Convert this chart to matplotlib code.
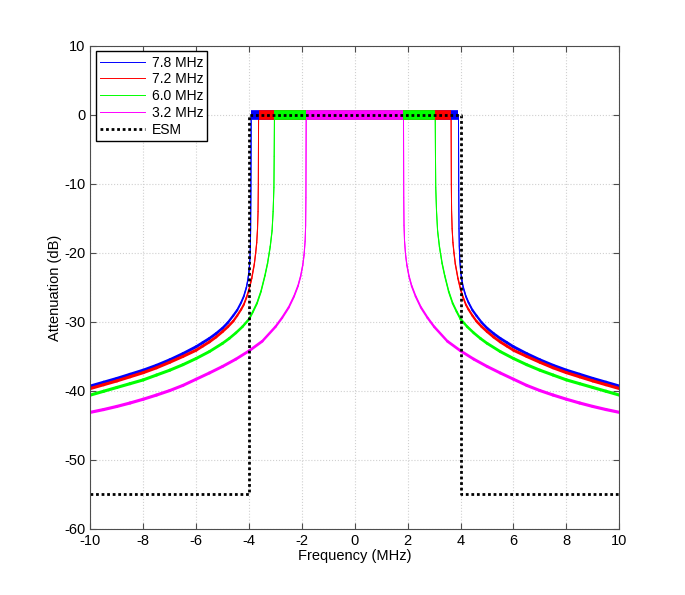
import numpy as np
import matplotlib.pyplot as plt
from matplotlib.collections import LineCollection

plt.rcParams['font.family'] = ['Liberation Sans', 'DejaVu Sans']
plt.rcParams['axes.unicode_minus'] = False

# Left half of each response (the curves are symmetric about 0 MHz)
freq_78 = [-10, -9.5, -9, -8.5, -8, -7.5, -7, -6.5, -6, -5.75, -5.5, -5.25, -5, -4.8, -4.6, -4.45,
           -4.3, -4.2, -4.1, -4.05, -4.0, -3.97, -3.95, -3.94, -3.93, -3.92]
att_78 = [-39.3, -38.75, -38.2, -37.6, -37.0, -36.3, -35.5, -34.6, -33.6, -33.0, -32.4, -31.7, -30.9, -30.1, -29.1, -28.3,
          -27.2, -26.3, -25.0, -24.0, -22.6, -21.0, -19.0, -16.5, -11.0, 0]

freq_72 = [-10, -9.5, -9, -8.5, -8, -7.5, -7, -6.5, -6, -5.75, -5.5, -5.25, -5, -4.8, -4.6, -4.45,
           -4.3, -4.2, -4.1, -4.0, -3.9, -3.8, -3.75, -3.71, -3.68, -3.66, -3.65, -3.64]
att_72 = [-39.65, -39.1, -38.55, -37.95, -37.35, -36.65, -35.85, -35.0, -34.1, -33.5, -32.9, -32.2, -31.4, -30.7, -29.9, -29.1,
          -28.2, -27.5, -26.5, -25.3, -23.7, -21.6, -20.0, -18.5, -16.5, -14.0, -10.0, 0]

freq_60 = [-10, -9.5, -9, -8.5, -8, -7.5, -7, -6.5, -6, -5.5, -5, -4.75, -4.5, -4.25, -4.0, -3.85,
           -3.7, -3.55, -3.4, -3.3, -3.2, -3.13, -3.09, -3.06, -3.05, -3.04]
att_60 = [-40.6, -40.05, -39.5, -38.95, -38.4, -37.7, -37.0, -36.2, -35.3, -34.3, -33.1, -32.4, -31.6, -30.7, -29.6, -28.5,
          -27.3, -25.6, -23.3, -21.5, -19.1, -16.8, -14.0, -10.5, -6.0, 0]

freq_32 = [-10, -9.5, -9, -8.5, -8, -7.5, -7, -6.5, -6, -5.5, -5, -4.5, -4, -3.5, -3.0, -2.75,
           -2.5, -2.3, -2.15, -2.05, -1.97, -1.92, -1.88, -1.86, -1.85, -1.84]
att_32 = [-43.1, -42.7, -42.25, -41.75, -41.2, -40.6, -39.95, -39.2, -38.3, -37.4, -36.45, -35.4, -34.2, -32.8, -30.7, -29.4,
          -27.9, -26.3, -24.8, -23.4, -21.8, -20.3, -18.3, -16.0, -12.0, 0]

esm_freq = [-10, -4, -4, 4, 4, 10]
esm_att = [-55, -55, 0, 0, -55, -55]

labels = ['7.8 MHz', '7.2 MHz', '6.0 MHz', '3.2 MHz']
colors = ['#0000ff', '#ff0000', '#00ff00', '#ff00ff']
series = [(freq_78, att_78), (freq_72, att_72), (freq_60, att_60), (freq_32, att_32)]

fig = plt.figure(figsize=(6.85, 5.95), dpi=100)
ax = fig.add_axes([0.132, 0.111, 0.772, 0.812])
ax.set_xlim(-10, 10)
ax.set_ylim(-60, 10)

edges = []
for (f, a), col, lab in zip(series, colors, labels):
    f = np.array(f, dtype=float)
    a = np.array(a, dtype=float)
    x = np.concatenate([f, -f[::-1]])
    y = np.concatenate([a, a[::-1]])
    ax.plot(x, y, color=col, lw=0.7, label=lab)
    # heavier where the curve is flat, thin where it is steep
    pts = np.column_stack([x, y])
    disp = ax.transData.transform(pts)
    d = np.diff(disp, axis=0)
    ln = np.hypot(d[:, 0], d[:, 1])
    ln[ln == 0] = 1
    widths = 0.7 + 1.6 * np.abs(d[:, 0]) / ln
    segs = np.stack([pts[:-1], pts[1:]], axis=1)
    keep = y[:-1] + y[1:] < 0  # passband is drawn separately
    lc = LineCollection(segs[keep], colors=col, linewidths=widths[keep], capstyle='round')
    ax.add_collection(lc)
    edges.append(f[-1])

# passband
for e, col in zip(edges, colors):
    ax.plot([e, -e], [0, 0], color=col, lw=7, solid_capstyle='butt')

ax.plot(esm_freq, esm_att, color='black', lw=2.0, linestyle=(0, (1, 1)),
        dash_capstyle='butt', label='ESM')

ax.set_xticks(np.arange(-10, 11, 2))
ax.set_yticks(np.arange(-60, 11, 10))
ax.grid(True, color='#d0d0d0', linestyle=':', linewidth=0.8)
ax.tick_params(direction='in', labelsize=10.5, length=4, color='0.3',
               top=True, right=True)
for s in ax.spines.values():
    s.set_color('0.3')

ax.set_xlabel('Frequency (MHz)', fontsize=10.5, labelpad=1)
ax.set_ylabel('Attenuation (dB)', fontsize=10.5, labelpad=2)

ax.legend(loc='upper left', fontsize=10, frameon=True, fancybox=False,
          edgecolor='black', framealpha=1, handlelength=3.2,
          borderaxespad=0.4, labelspacing=0.2, handletextpad=0.5,
          borderpad=0.3)

fig.savefig('out.png', dpi=100)
